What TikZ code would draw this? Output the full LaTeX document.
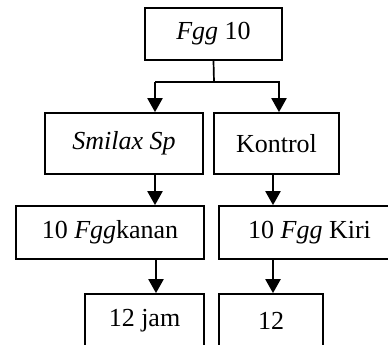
\documentclass[tikz,border=0pt]{standalone}
\usepackage{fontspec}
\setmainfont{Liberation Serif}
\usetikzlibrary{arrows.meta}
\begin{document}
\begin{tikzpicture}[x=1pt,y=-1pt]
        \tikzset{
          kotak/.style={draw,line width=1.7pt,inner sep=0pt,font=\fontsize{26}{30}\selectfont},
          panah/.style={line width=2.2pt,-{Triangle[length=14pt,width=15pt]}},
        }
        \useasboundingbox (0,0) rectangle (388,345);

        %BARIS 1
        \node[kotak,minimum width=137pt,minimum height=52pt] (fgg) at (213.5,34) {\textit{Fgg} 10};
        %BARIS 2
        \node[kotak,minimum width=158pt,minimum height=61pt] (smilax) at (124,143.5) {\textit{Smilax Sp}};
        \node[kotak,minimum width=125pt,minimum height=61pt] (kontrol) at (276.5,143.5) {Kontrol};
        %BARIS 3
        \node[kotak,minimum width=188pt,minimum height=53pt] (kanan) at (110,232.5) {10 \textit{Fgg}kanan};
        \node[kotak,minimum width=181pt,minimum height=53pt] (kiri) at (309.5,232.5) {10 \textit{Fgg} Kiri};
        %BARIS 4
        \node[kotak,minimum width=119pt,minimum height=53pt] (jam) at (144.5,320.5) {12 jam};
        \node[kotak,minimum width=104pt,minimum height=53pt] (duabelas) at (271,320.5) {12};

        %CABANG
        \coordinate (cabang) at (214,82);
        \coordinate (kl) at (155,82);
        \coordinate (kr) at (280,82);
        \draw[line width=1.7pt] (fgg.south) -- (cabang);
        \draw[line width=2.2pt] (kl) -- (kr);
        \draw[panah] (kl) -- (smilax.north -| kl);
        \draw[panah] ([xshift=-1pt]kr) -- ([xshift=-1pt]kontrol.north -| kr);

        %KIRI
        \draw[panah] (smilax.south -| kl) -- (kanan.north -| kl);
        \draw[panah] ([xshift=1pt]kanan.south -| kl) -- ([xshift=1pt]jam.north -| kl);
        %KANAN
        \coordinate (kk) at (273,0);
        \draw[panah] (kontrol.south -| kk) -- (kiri.north -| kk);
        \draw[panah] (kiri.south -| kk) -- (duabelas.north -| kk);
    \end{tikzpicture}
\end{document}
